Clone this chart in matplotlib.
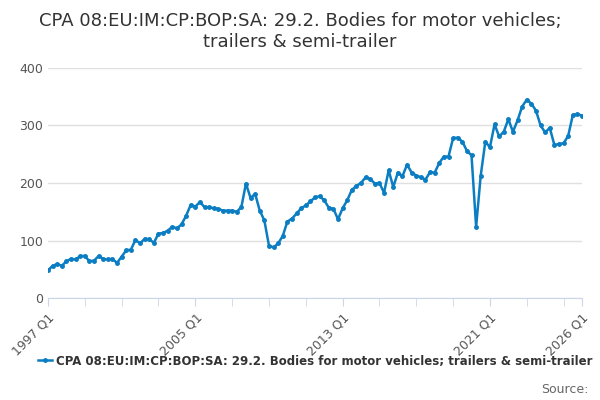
import matplotlib
matplotlib.use("Agg")
import matplotlib.pyplot as plt
import numpy as np

values = [48,56,59,56, 64,68,67,73, 73,64,65,73, 68,67,68,61,
          72,83,84,101, 95,103,102,96, 112,113,117,124, 121,128,143,162,
          159,167,158,158, 156,155,152,152, 152,150,158,199, 174,181,152,135,
          91,88,95,108, 133,138,147,156, 161,168,175,177, 170,157,155,137,
          156,170,188,195, 200,210,207,199, 200,183,222,193, 218,212,232,218,
          213,210,206,219, 218,235,246,246, 278,279,272,256, 248,124,213,272,
          262,302,281,289, 311,289,309,333, 345,338,326,300, 288,296,266,268,
          269,282,318,320,317]
t = 1997 + np.arange(len(values)) / 4.0

fig, ax = plt.subplots(figsize=(6, 4), dpi=100)
fig.subplots_adjust(left=0.08, right=0.97, top=0.83, bottom=0.255)
col = "#0b7dc2"
ax.plot(t, values, color=col, lw=1.8, marker="o", ms=2.5)
ax.set_ylim(0, 400)
ax.set_yticks([0, 100, 200, 300, 400])
ax.set_xlim(1997, 2026)
ax.set_xticks([1997, 2005, 2013, 2021, 2026])
ax.set_xticklabels(["1997 Q1", "2005 Q1", "2013 Q1", "2021 Q1", "2026 Q1"], rotation=45, ha="right",
                   rotation_mode="anchor")
ax.set_xticks(np.arange(1997, 2026, 2), minor=True)
ax.grid(axis="y", color="#e0e0e0", lw=1)
for s in ["top", "right", "left"]:
    ax.spines[s].set_visible(False)
ax.spines["bottom"].set_color("#ccd6eb")
ax.tick_params(axis="y", length=0, colors="#555555", labelsize=9)
ax.tick_params(axis="x", which="both", color="#ccd6eb", length=6, colors="#555555", labelsize=9)
ax.set_axisbelow(True)

fig.suptitle("CPA 08:EU:IM:CP:BOP:SA: 29.2. Bodies for motor vehicles;\ntrailers & semi-trailer",
             fontsize=13, color="#333333", y=0.97)
ax.plot([], [], color=col, lw=1.8, marker="o", ms=2.5,
        label="CPA 08:EU:IM:CP:BOP:SA: 29.2. Bodies for motor vehicles; trailers & semi-trailer")
leg = ax.legend(loc="upper center", bbox_to_anchor=(0.5, -0.2), frameon=False, fontsize=8.5,
                handlelength=1.2, handletextpad=0.3)
for txt in leg.get_texts():
    txt.set_fontweight("bold")
    txt.set_color("#333333")
fig.text(0.98, 0.01, "Source:", ha="right", va="bottom", fontsize=9, color="#666666")
fig.savefig("out.png")
